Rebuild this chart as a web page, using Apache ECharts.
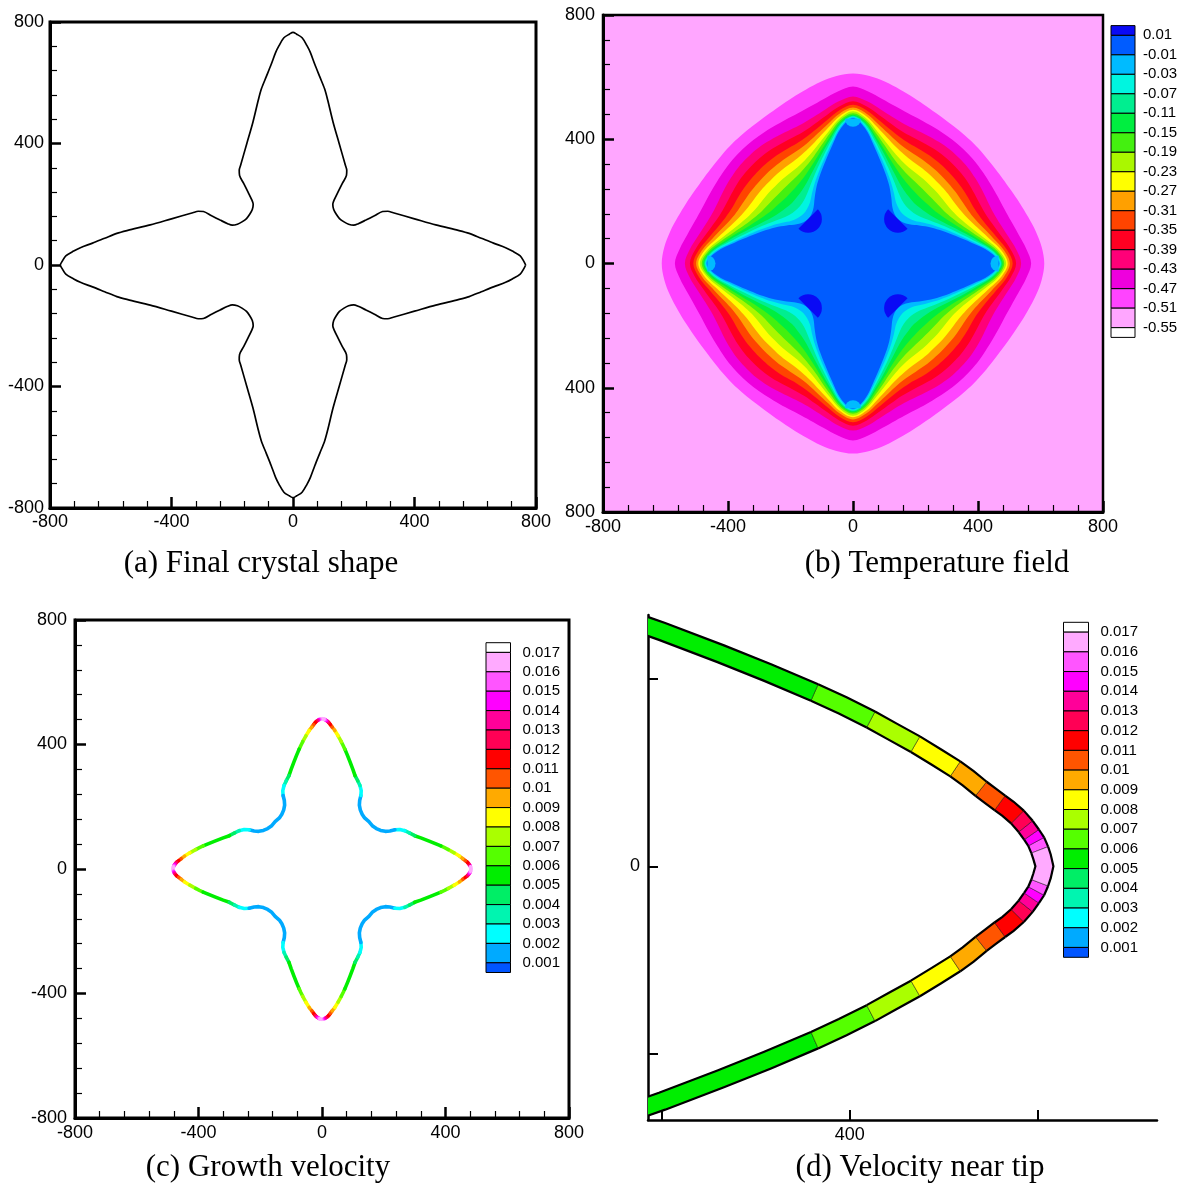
<!DOCTYPE html>
<html><head><meta charset="utf-8">
<script src="https://cdn.jsdelivr.net/npm/echarts@6/dist/echarts.min.js"></script>
<style>html,body{margin:0;padding:0;background:#fff}#c{width:1193px;height:1194px}</style>
</head><body><div id="c"></div>
<script>
// ================= DATA =================
const axisTickValues = [-800, -400, 0, 400, 800];

// (a) final crystal outline: one octant of the right arm, tip -> 45deg diagonal
const finalOctX = [766,760,748,722,700,660,620,580,544,470,400,330,312,295,268,240,215,200,183,168,153];
const finalOctY = [0,12,30,46,57,72,88,104,114,132,152,172,177,176,162,148,136,131,134,142,153];

// (c)/(d) interface octant (right arm, tip -> diagonal) and growth velocity per segment
const tipOctX = [483,482,481,479.5,477.5,475,471.5,467.5,464,460,456,450.5,445,437,428,418,409,397,385,365,345,320,300,283,268,252,236,220,205,190,176,164,152];
const tipOctY = [0,4,7,10.5,13.5,17,21,24.5,27,30,33,37.5,41.5,46.5,52,57.5,62.5,68.5,74,82.5,90.5,100,107,116,123,127,126,122,121,124,130,138,152];
const tipOctV = [0.0165,0.0165,0.0155,0.0145,0.0135,0.0125,0.0115,0.0115,0.0105,0.0105,
                 0.0095,0.0095,0.0085,0.0085,0.0075,0.0075,0.0065,0.0065,0.0055,0.0055,
                 0.0055,0.0055,0.0045,0.0035,0.0025,0.0025,0.0015,0.0015,0.0015,0.0015,0.0015,0.0015];

// (b) temperature contour edges: radius at polar angles 0..45 deg (octant)
const contourAngles = [0,5,10,15,20,25,30,35,40,45];
const edge051 = [612,606,594,580,568,558,551,547,546,546];
const edge047 = [570,556,538,524,515,511,509,509,510,510];
const edge043 = [538,524,504,488,478,475,476,478,480,480];
const edge039 = [522,507,485,467,454,449,449,451,452,452];
const edge035 = [511,495,470,449,434,426,425,425,425,425];
const edge031 = [502,485,457,434,416,406,402,401,400,400];
const edge027 = [495,477,446,420,400,387,380,378,377,376];
const edge023 = [490,470,435,405,382,366,357,354,353,352];
const edge019 = [484,464,426,393,367,349,337,331,328,327];
const edge015 = [479,458,417,382,354,333,318,309,304,302];
const edge011 = [476,453,409,372,341,317,298,286,279,276];
const edge007 = [473,448,401,361,329,302,280,263,253,250];
const edge003 = [471,443,393,351,317,288,262,240,229,225];
const edge001 = [468,438,385,341,306,275,245,220,207,203];
// warm spots at the roots (T > 0.01) and cool spots inside the tips
const rootSpot = {r: 203, size: 44};
const tipSpot = {r: 466, size: 26};

// colour bars
const labelsB = ['0.01','-0.01','-0.03','-0.07','-0.11','-0.15','-0.19','-0.23','-0.27','-0.31','-0.35','-0.39','-0.43','-0.47','-0.51','-0.55'];
const colorsB = ['#0a0af5','#005cff','#00bbff','#00f5e0','#00ee90','#00ee40','#44f010','#aaf700','#ffff00','#ffa000','#ff4400','#ff0022','#ff0078','#ee00dd','#ff44ff','#ffa6ff','#ffffff'];
const labelsV = ['0.017','0.016','0.015','0.014','0.013','0.012','0.011','0.01','0.009','0.008','0.007','0.006','0.005','0.004','0.003','0.002','0.001'];
const colorsV = ['#ffffff','#ffaaff','#ff55ff','#ff00ff','#ff0099','#ff0055','#ff0000','#ff5500','#ffaa00','#ffff00','#aaff00','#55ff00','#00ee00','#00ee66','#00f5b0','#00ffff','#00aaff','#0055ff'];

// ================= BUILD =================
function octLoop(ox, oy){
  const oct = ox.map((x,i)=>[x, oy[i]]);
  const q1 = oct.concat(oct.slice(0,-1).reverse().map(p=>[p[1],p[0]]));
  const q2 = q1.slice().reverse().map(p=>[-p[0],p[1]]);
  const q3 = q1.map(p=>[-p[0],-p[1]]);
  const q4 = q1.slice().reverse().map(p=>[p[0],-p[1]]);
  return q1.concat(q2.slice(1), q3.slice(1), q4.slice(1));
}
function octLoopVals(ov){
  const q1 = ov.concat(ov.slice().reverse());
  const q2 = q1.slice().reverse();
  return q1.concat(q2, q1, q2);
}
function makeCells(verts, vals){
  const n = vals.length;
  let k = 0; for (let i=1;i<n;i++){ if (vals[i]!==vals[i-1]) { k=i; break; } }
  const V=[], S=[];
  for (let i=0;i<n;i++){ V.push(verts[(i+k)%n]); S.push(vals[(i+k)%n]); }
  V.push(V[0]);
  const cells=[]; let start=0;
  for (let i=1;i<=n;i++){
    if (i===n || S[i]!==S[start]) {
      cells.push({v:S[start], pts:V.slice(start,i+1), prev:V[(start-1+n)%n], next:V[(i+1)%n]});
      start=i;
    }
  }
  return cells;
}
const finalLoop = octLoop(finalOctX, finalOctY);
const tipLoop = octLoop(tipOctX, tipOctY);
const cellsV = makeCells(tipLoop, octLoopVals(tipOctV));

function velColor(v){ let i = 17 - Math.floor(v*1000 + 1e-6); i = Math.max(0, Math.min(17, i)); return colorsV[i]; }

const rings = [[edge051,14],[edge047,13],[edge043,12],[edge039,11],[edge035,10],[edge031,9],[edge027,8],[edge023,7],[edge019,6],[edge015,5],[edge011,4],[edge007,3],[edge003,2],[edge001,1]];
function ringPoints(rt){
  const pts=[];
  for (let a=0;a<360;a+=5){ let t=a%90; if(t>45) t=90-t; const r=rt[contourAngles.indexOf(t)]; const rad=a*Math.PI/180; pts.push([r*Math.cos(rad), r*Math.sin(rad)]); }
  return pts;
}
const ringPts = rings.map(r=>ringPoints(r[0]));
const spots = [];
[45,135,225,315].forEach(a=>spots.push([rootSpot.r*Math.cos(a*Math.PI/180), rootSpot.r*Math.sin(a*Math.PI/180), rootSpot.size, a, 0]));
[0,90,180,270].forEach(a=>spots.push([tipSpot.r*Math.cos(a*Math.PI/180), tipSpot.r*Math.sin(a*Math.PI/180), tipSpot.size, a, 2]));

// ================= CHART =================
const FONT = 'Liberation Sans';
function frameAxis(grid, dim, fmt, margin){
  return {
    gridIndex: grid, type:'value', min:-800, max:800, interval:400,
    axisLine:{show:true, onZero:false, lineStyle:{color:'#000', width:3}},
    axisTick:{show:true, inside:true, length:11, lineStyle:{color:'#000', width:2.5}},
    minorTick:{show:true, splitNumber:5, length:7, lineStyle:{color:'#000', width:1.2}},
    axisLabel:{color:'#000', fontSize:18, fontFamily:FONT, margin:margin, showMinLabel:true, showMaxLabel:true, hideOverlap:false, formatter: fmt},
    splitLine:{show:false}, minorSplitLine:{show:false}
  };
}
function barAxesX(grid){ return {gridIndex:grid, type:'value', min:0, max:1, show:false}; }
function barAxesY(grid, N, labels, margin){
  const cv=[]; for (let k=0;k<labels.length;k++) cv.push(k+0.5);
  return {gridIndex:grid, type:'value', min:0, max:N, inverse:true, position:'right',
    axisLine:{show:false}, axisTick:{show:false}, splitLine:{show:false},
    axisLabel:{show:true, customValues:cv, margin:margin, color:'#000', fontSize:15, fontFamily:FONT,
      formatter: v=>labels[Math.round(v-0.5)]}};
}
function barSeries(xi, colors, N){
  return {type:'custom', xAxisIndex:xi, yAxisIndex:xi, silent:true,
    data: colors.map((c,i)=>[0.5, i]),
    renderItem:(params, api)=>{
      const i = api.value(1); const y0=Math.max(0,i-0.5), y1=Math.min(N,i+0.5);
      const a=api.coord([0,y0]), b=api.coord([1,y1]);
      return {type:'rect', shape:{x:a[0], y:Math.min(a[1],b[1]), width:b[0]-a[0], height:Math.abs(b[1]-a[1])},
        style:{fill:colors[i], stroke:'#000', lineWidth:1}};
    }};
}
const G = (o)=>Object.assign({containLabel:false, outerBoundsMode:'none'}, o);
const TITLE_FONT = '31px "Liberation Serif"';

const option = {
  animation:false,
  backgroundColor:'#fff',
  grid:[
    G({left:50, top:22, width:486, height:486, show:true, borderColor:'#000', borderWidth:3}),
    G({left:603, top:15, width:500, height:497, show:true, borderColor:'#000', borderWidth:2.5, backgroundColor:colorsB[15]}),
    G({left:1111, top:25.6, width:24, height:311.8}),
    G({left:75, top:620, width:494, height:498, show:true, borderColor:'#000', borderWidth:3}),
    G({left:486, top:642.7, width:24.5, height:329.8}),
    G({left:648, top:615, width:509, height:505}),
    G({left:1063.5, top:622.3, width:25, height:335})
  ],
  xAxis:[
    frameAxis(0,'x',null,5),
    frameAxis(1,'x',null,6),
    barAxesX(2),
    frameAxis(3,'x',null,6),
    barAxesX(4),
    {gridIndex:5, type:'value', min:314, max:531,
      axisLine:{show:true, onZero:false, lineStyle:{color:'#000', width:2.5}},
      axisTick:{show:true, inside:true, length:10, customValues:[320,400,480], lineStyle:{color:'#000', width:2}},
      axisLabel:{customValues:[400], color:'#000', fontSize:18, fontFamily:FONT, margin:6},
      splitLine:{show:false}},
    barAxesX(6)
  ],
  yAxis:[
    frameAxis(0,'y',null,6),
    frameAxis(1,'y',v=>String(Math.abs(v)),8),
    barAxesY(2,16,labelsB,8),
    frameAxis(3,'y',null,8),
    barAxesY(4,17,labelsV,12),
    {gridIndex:5, type:'value', min:-108, max:107,
      axisLine:{show:true, onZero:false, lineStyle:{color:'#000', width:2.5}},
      axisTick:{show:true, inside:true, length:10, customValues:[-80,0,80], lineStyle:{color:'#000', width:2}},
      axisLabel:{customValues:[0], color:'#000', fontSize:18, fontFamily:FONT, margin:8},
      splitLine:{show:false}},
    barAxesY(6,17,labelsV,12)
  ],
  series:[
    // (a) final crystal shape
    {type:'line', xAxisIndex:0, yAxisIndex:0, data:finalLoop, showSymbol:false, smooth:0.3,
      lineStyle:{color:'#000', width:1.7}, silent:true},
    // (b) temperature contour bands
    {type:'custom', xAxisIndex:1, yAxisIndex:1, silent:true, clip:true,
      data: rings.map((r,i)=>[0,0,i]),
      renderItem:(params, api)=>{
        const i = api.value(2);
        return {type:'polygon', shape:{points:ringPts[i].map(p=>api.coord(p)), smooth:0.35},
          style:{fill:colorsB[rings[i][1]], stroke:null}};
      }},
    {type:'custom', xAxisIndex:1, yAxisIndex:1, silent:true, clip:true,
      data: spots,
      renderItem:(params, api)=>{
        const c = api.coord([api.value(0), api.value(1)]);
        const rpx = api.size([api.value(2), 0])[0];
        const phi = -api.value(3)*Math.PI/180;
        return {type:'sector', shape:{cx:c[0], cy:c[1], r:rpx, r0:0, startAngle:phi+Math.PI/2, endAngle:phi+3*Math.PI/2, clockwise:true},
          style:{fill:colorsB[api.value(4)]}};
      }},
    barSeries(2, colorsB, 16),
    // (c) growth velocity along interface
    {type:'custom', xAxisIndex:3, yAxisIndex:3, silent:true, clip:true,
      data: cellsV.map((c,i)=>[0,0,i,c.v]),
      renderItem:(params, api)=>{
        const c = cellsV[api.value(2)];
        return {type:'polyline', shape:{points:c.pts.map(p=>api.coord(p))},
          style:{stroke:velColor(c.v), lineWidth:3.6, lineCap:'round', lineJoin:'round', fill:null}};
      }},
    barSeries(4, colorsV, 17),
    // (d) zoom near the tip
    {type:'custom', xAxisIndex:5, yAxisIndex:5, silent:true, clip:true,
      data: cellsV.map((c,i)=>[400,0,i,c.v]),
      renderItem:(params, api)=>{
        const c = cellsV[api.value(2)];
        const P = [c.prev].concat(c.pts, [c.next]).map(p=>api.coord(p));
        const w = 9, L=[], R=[];
        for (let j=1;j<P.length-1;j++){
          let tx=P[j+1][0]-P[j-1][0], ty=P[j+1][1]-P[j-1][1];
          const len=Math.hypot(tx,ty)||1; tx/=len; ty/=len;
          L.push([P[j][0]-ty*w, P[j][1]+tx*w]);
          R.push([P[j][0]+ty*w, P[j][1]-tx*w]);
        }
        return {type:'group', children:[
          {type:'polygon', shape:{points:L.concat(R.slice().reverse())}, style:{fill:velColor(c.v), stroke:'rgba(0,0,0,0.55)', lineWidth:0.8}},
          {type:'polyline', shape:{points:L}, style:{stroke:'#000', lineWidth:2.2, fill:null}},
          {type:'polyline', shape:{points:R}, style:{stroke:'#000', lineWidth:2.2, fill:null}}
        ]};
      }},
    barSeries(6, colorsV, 17)
  ],
  graphic:[
    {type:'text', x:261, y:564, style:{text:'(a) Final crystal shape', font:TITLE_FONT, fill:'#000', align:'center', verticalAlign:'middle'}},
    {type:'text', x:937, y:564, style:{text:'(b) Temperature field', font:TITLE_FONT, fill:'#000', align:'center', verticalAlign:'middle'}},
    {type:'text', x:268, y:1168, style:{text:'(c) Growth velocity', font:TITLE_FONT, fill:'#000', align:'center', verticalAlign:'middle'}},
    {type:'text', x:920, y:1168, style:{text:'(d) Velocity near tip', font:TITLE_FONT, fill:'#000', align:'center', verticalAlign:'middle'}}
  ]
};
const chart = echarts.init(document.getElementById('c'), null, {renderer:'canvas', width:1193, height:1194});
chart.setOption(option);
</script>
</body></html>
